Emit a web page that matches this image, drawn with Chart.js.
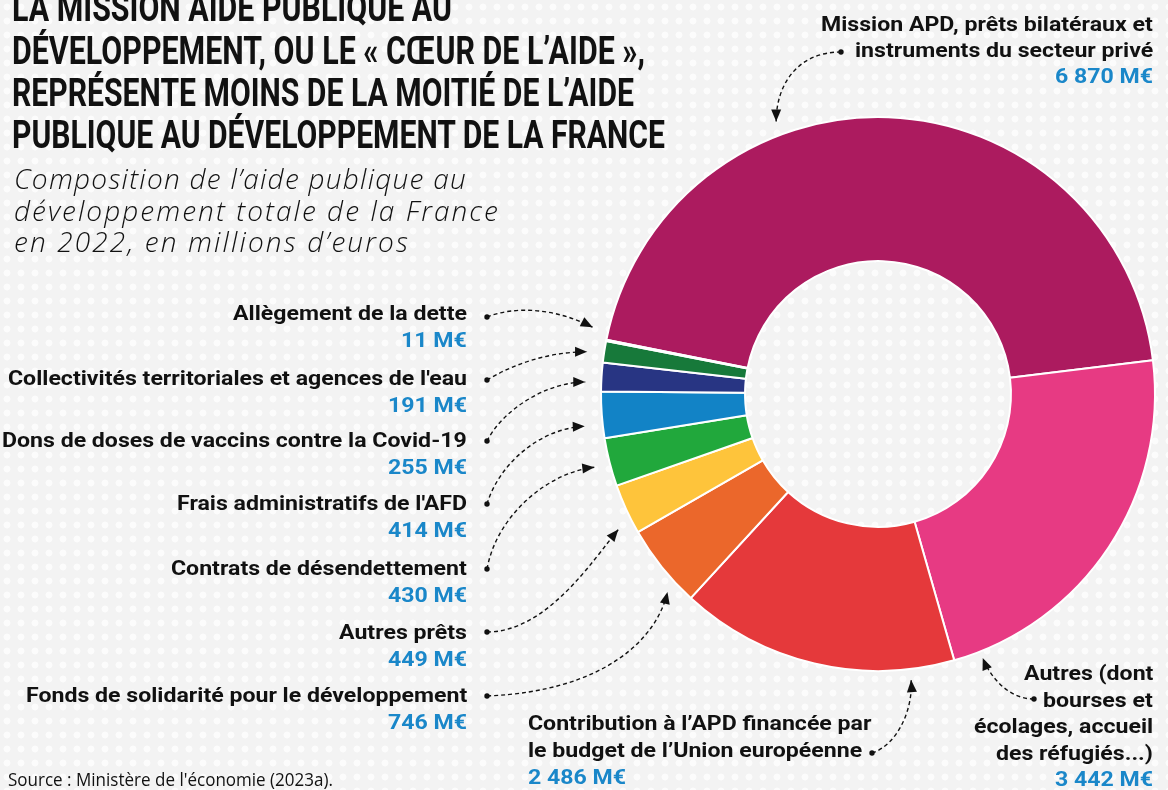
<!DOCTYPE html>
<html lang="fr">
<head>
<meta charset="utf-8">
<title>Composition de l'APD totale de la France en 2022</title>
<script src="https://cdn.jsdelivr.net/npm/chart.js@4.4.1/dist/chart.umd.min.js"></script>
<style>
  html, body { margin: 0; padding: 0; }
  body {
    width: 1168px; height: 790px; overflow: hidden; position: relative;
    background-color: #f3f3f3;
    background-image: radial-gradient(circle, #fcfcfc 0, #fcfcfc 3px, rgba(252,252,252,0) 3.8px);
    background-size: 14px 14px;
    font-family: Roboto, "Noto Sans", sans-serif;
    color: #111;
  }
  #chart { position: absolute; left: 0; top: 0; }
  .t { position: absolute; white-space: nowrap; transform-origin: 0 0; line-height: 1.2; }
  .t i { display: inline-block; width: 0; height: 0; vertical-align: baseline; }
  .title { font-size: 38px; font-weight: 700; }
  .sub { font-family: "Open Sans", Roboto, sans-serif; font-size: 28px; font-weight: 300; font-style: italic; }
  .lab { font-size: 20px; font-weight: 700; }
  .val { font-size: 20px; font-weight: 700; color: #1a87c9; }
  .src { font-family: "Open Sans", Roboto, sans-serif; font-size: 18px; font-weight: 400; }
</style>
</head>
<body>
<canvas id="chart" width="1168" height="790"></canvas>
<script>
// categories (each split into the lines shown in the picture)
const categories = [
  ["Mission APD, prêts bilatéraux et", "instruments du secteur privé"],
  ["Autres (dont", "bourses et", "écolages, accueil", "des réfugiés...)"],
  ["Contribution à l’APD financée par", "le budget de l’Union européenne"],
  ["Fonds de solidarité pour le développement"],
  ["Autres prêts"],
  ["Contrats de désendettement"],
  ["Frais administratifs de l'AFD"],
  ["Dons de doses de vaccins contre la Covid-19"],
  ["Collectivités territoriales et agences de l'eau"],
  ["Allègement de la dette"]
];
// millions d'euros, 2022
const values = [6870, 3442, 2486, 746, 449, 430, 414, 255, 191, 11];
const sliceColors = ["#ac1b5f", "#e73a83", "#e5393b", "#eb672b", "#fec43b",
                     "#21a83c", "#1283c6", "#283583", "#17793a", "#52b9e8"];

const titleLines = [
  "LA MISSION AIDE PUBLIQUE AU",
  "DÉVELOPPEMENT, OU LE « CŒUR DE L’AIDE »,",
  "REPRÉSENTE MOINS DE LA MOITIÉ DE L’AIDE",
  "PUBLIQUE AU DÉVELOPPEMENT DE LA FRANCE"
];
const subtitleLines = [
  "Composition de l’aide publique au",
  "développement totale de la France",
  "en 2022, en millions d’euros"
];
const source = "Source : Ministère de l'économie (2023a).";

// label placement (layout only): text anchor, baselines, dot, arrow target on the slice
const callouts = [
  { slice: 0, align: "right", x: 1153, base: [31, 57], vbase: 83, dot: [841, 52], frac: 0.36, gap: 14, c1: [-45, 0], c2: [0, -35] },
  { slice: 1, align: "right", x: 1153, base: [680, 706.5, 733, 759.5], vbase: 786, dot: [1034, 699], frac: 0.93, gap: 7, c1: [-25, 0], c2: [8, 20] },
  { slice: 2, align: "left", x: 528, base: [730, 757], vbase: 784, dot: [872, 753], frac: 0.16, gap: 11, c1: [25, -8], c2: [2, 30] },
  { slice: 3, align: "right", x: 467, base: [702], vbase: 729, dot: [487, 696], frac: 0.24, gap: 12, c1: [120, -5], c2: [-10, 45] },
  { slice: 4, align: "right", x: 467, base: [639], vbase: 666, dot: [487, 632], frac: 0.22, gap: 16, c1: [60, 0], c2: [-25, 30] },
  { slice: 5, align: "right", x: 467, base: [575], vbase: 602, dot: [487, 569], frac: 0.48, gap: 16, c1: [10, -55], c2: [-45, 5] },
  { slice: 6, align: "right", x: 467, base: [510], vbase: 537, dot: [487, 504], frac: 0.3, gap: 18, c1: [12, -40], c2: [-45, 2] },
  { slice: 7, align: "right", x: 467, base: [447], vbase: 474, dot: [487, 441], frac: 0.3, gap: 16, c1: [15, -30], c2: [-40, 0] },
  { slice: 8, align: "right", x: 467, base: [385], vbase: 412, dot: [487, 380], frac: 0.38, gap: 17, c1: [25, -15], c2: [-40, 0] },
  { slice: 9, align: "right", x: 467, base: [320], vbase: 347, dot: [487, 317], frac: 0.5, nudge: 2, gap: 16, c1: [30, -12], c2: [-35, -18] }
];

function fmt(v) {
  return String(v).replace(/\B(?=(\d{3})+(?!\d))/g, "\u00a0") + "\u00a0M€";
}

// put one line of text with its baseline at "base"
function place(text, x, base, cls, align, fit) {
  const d = document.createElement("div");
  d.className = "t " + cls;
  d.appendChild(document.createTextNode(text));
  const mark = document.createElement("i");
  d.appendChild(mark);
  document.body.appendChild(d);
  let w = d.getBoundingClientRect().width;
  let s = 1;
  if (fit && fit.space) {
    d.style.letterSpacing = ((fit.space - w) / text.length) + "px";
    w = d.getBoundingClientRect().width;
  }
  if (fit && fit.width) s = fit.width / w;
  if (fit && fit.scale) s = fit.scale;
  d.style.transform = "scaleX(" + s + ")";
  d.style.left = (align === "right" ? x - w * s : x) + "px";
  d.style.top = "0px";
  const off = mark.getBoundingClientRect().top - d.getBoundingClientRect().top;
  d.style.top = (base - off) + "px";
  return d;
}

function measure(text, cls) {
  const d = document.createElement("div");
  d.className = "t " + cls;
  d.textContent = text;
  document.body.appendChild(d);
  const w = d.getBoundingClientRect().width;
  d.remove();
  return w;
}

const calloutPlugin = {
  id: "callouts",
  afterDatasetsDraw(chart) {
    const ctx = chart.ctx;
    const arcs = chart.getDatasetMeta(0).data;
    callouts.forEach(c => {
      const arc = arcs[c.slice];
      const a = arc.startAngle + c.frac * (arc.endAngle - arc.startAngle) + (c.nudge || 0) * Math.PI / 180;
      const r = arc.outerRadius + c.gap;
      const tx = arc.x + r * Math.cos(a), ty = arc.y + r * Math.sin(a);
      const dx = c.dot[0], dy = c.dot[1];
      const c1x = dx + c.c1[0], c1y = dy + c.c1[1];
      const c2x = tx + c.c2[0], c2y = ty + c.c2[1];
      ctx.save();
      ctx.strokeStyle = "#111";
      ctx.fillStyle = "#111";
      ctx.lineWidth = 1.4;
      ctx.setLineDash([4, 3]);
      ctx.beginPath();
      ctx.moveTo(dx, dy);
      ctx.bezierCurveTo(c1x, c1y, c2x, c2y, tx, ty);
      ctx.stroke();
      ctx.setLineDash([]);
      ctx.beginPath();
      ctx.arc(dx, dy, 2.7, 0, Math.PI * 2);
      ctx.fill();
      // arrow head
      const ang = Math.atan2(ty - c2y, tx - c2x);
      const L = 12, W = 5;
      ctx.beginPath();
      ctx.moveTo(tx, ty);
      ctx.lineTo(tx - L * Math.cos(ang) + W * Math.sin(ang), ty - L * Math.sin(ang) - W * Math.cos(ang));
      ctx.lineTo(tx - L * Math.cos(ang) - W * Math.sin(ang), ty - L * Math.sin(ang) + W * Math.cos(ang));
      ctx.closePath();
      ctx.fill();
      ctx.restore();
    });
  }
};

new Chart(document.getElementById("chart"), {
  type: "doughnut",
  data: {
    labels: categories,
    datasets: [{
      data: values,
      backgroundColor: sliceColors,
      borderColor: "#ffffff",
      borderWidth: 2
    }]
  },
  options: {
    responsive: false,
    animation: false,
    cutout: "48%",
    rotation: -78.7,
    layout: { padding: { left: 600, right: 12, top: 116, bottom: 118 } },
    plugins: {
      legend: { display: false },
      tooltip: { enabled: false }
    }
  },
  plugins: [calloutPlugin]
});

// texts
const titleBase = [21, 64, 106, 148];
const titleRight = [452, 645, 634, 665];
titleLines.forEach((t, i) => place(t, 12, titleBase[i], "title", "left", { width: titleRight[i] - 12 }));

const subBase = [189, 221, 252];
const subRight = [467, 500, 410];
subtitleLines.forEach((t, i) => place(t, 14, subBase[i], "sub", "left", { space: subRight[i] - 14 }));

const labScale = 459 / measure(categories[8][0], "lab");
callouts.forEach(c => {
  const lines = categories[c.slice];
  lines.forEach((t, j) => place(t, c.x, c.base[j], "lab", c.align, { scale: labScale }));
  place(fmt(values[c.slice]), c.x, c.vbase, "val", c.align, { scale: labScale });
});

place(source, 8, 786, "src", "left", { width: 325 });
</script>
</body>
</html>
